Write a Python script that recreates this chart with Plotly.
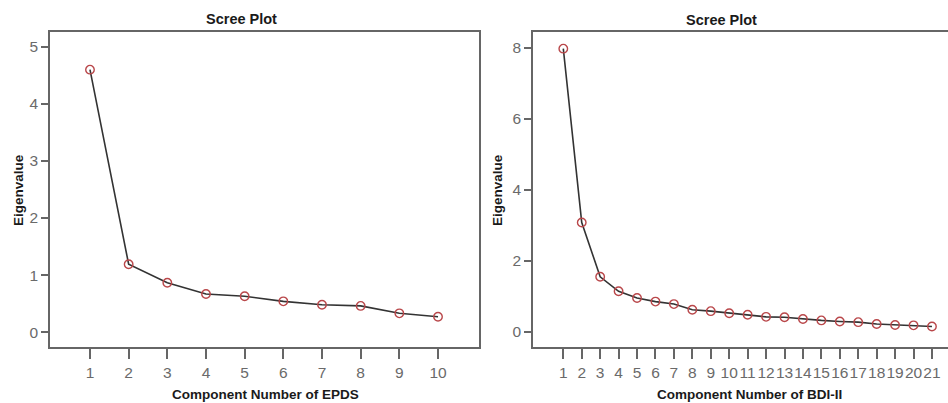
import plotly.graph_objects as go

# Data
epds_components = [1, 2, 3, 4, 5, 6, 7, 8, 9, 10]
epds_eigen = [4.60, 1.19, 0.865, 0.67, 0.63, 0.54, 0.48, 0.46, 0.33, 0.27]

bdi_components = list(range(1, 22))
bdi_eigen = [7.98, 3.08, 1.55, 1.14, 0.95, 0.85, 0.78, 0.62, 0.58, 0.52, 0.48,
             0.42, 0.41, 0.36, 0.32, 0.29, 0.27, 0.22, 0.19, 0.18, 0.15]

left_title = "Scree Plot"
right_title = "Scree Plot"
left_xlabel = "Component Number of EPDS"
right_xlabel = "Component Number of BDI-II"
ylabel = "Eigenvalue"

W, H = 948, 403
MT, MB = 32, 56
FONT = "Liberation Sans, Arial, sans-serif"
LINE_C = "#333333"
MARK_C = "#b9474a"
FRAME_C = "#666666"
TICK_C = "#6a6a6a"

fig = go.Figure()
fig.add_trace(go.Scatter(x=epds_components, y=epds_eigen, mode="lines+markers",
                         line=dict(color=LINE_C, width=1.6),
                         marker=dict(symbol="circle-open", size=8.5, color=MARK_C,
                                     line=dict(width=1.4, color=MARK_C)),
                         xaxis="x", yaxis="y", showlegend=False, cliponaxis=False))
fig.add_trace(go.Scatter(x=bdi_components, y=bdi_eigen, mode="lines+markers",
                         line=dict(color=LINE_C, width=1.6),
                         marker=dict(symbol="circle-open", size=8.5, color=MARK_C,
                                     line=dict(width=1.4, color=MARK_C)),
                         xaxis="x2", yaxis="y2", showlegend=False, cliponaxis=False))

tickfont = dict(family=FONT, size=15.5, color=TICK_C)
common_x = dict(showgrid=False, zeroline=False, showline=True, linecolor=FRAME_C,
                linewidth=1.8, ticks="outside", ticklen=10, tickwidth=1.5,
                tickcolor=FRAME_C, tickfont=tickfont, tickangle=0)
common_y = dict(showgrid=False, zeroline=False, showline=True, linecolor=FRAME_C,
                linewidth=1.8, ticks="outside", ticklen=7, tickwidth=1.5,
                tickcolor=FRAME_C, tickfont=tickfont, tickangle=0)

fig.update_layout(
    width=W, height=H,
    margin=dict(l=0, r=0, t=MT, b=MB, pad=0),
    paper_bgcolor="white", plot_bgcolor="white",
    xaxis=dict(domain=[50 / W, 479 / W], range=[-0.034, 11.06], mirror=True,
               anchor="y", tickvals=epds_components, **common_x),
    yaxis=dict(domain=[0, 1], range=[-0.26, 5.26], mirror=True, anchor="x",
               tickvals=[0, 1, 2, 3, 4, 5], **common_y),
    xaxis2=dict(domain=[533 / W, 1.0], range=[-0.644, 21.87], mirror=True,
                anchor="y2", tickvals=bdi_components, **common_x),
    yaxis2=dict(domain=[0, 1], range=[-0.43, 8.45], mirror=False, anchor="x2",
                tickvals=[0, 2, 4, 6, 8], **common_y),
)

title_font = dict(family=FONT, size=14.5, color="#1a1a1a")
label_font = dict(family=FONT, size=13.5, color="#1a1a1a")

def px_x(x):
    return x / W

def px_y(y):
    return (H - MB - y) / (H - MT - MB)

annots = [
    dict(text="<b>%s</b>" % left_title, x=px_x(241), y=px_y(19), font=title_font),
    dict(text="<b>%s</b>" % right_title, x=px_x(721), y=px_y(20), font=title_font),
    dict(text="<b>%s</b>" % left_xlabel, x=px_x(265), y=px_y(394), font=label_font),
    dict(text="<b>%s</b>" % right_xlabel, x=px_x(749), y=px_y(394), font=label_font),
    dict(text="<b>%s</b>" % ylabel, x=px_x(18), y=px_y(190), font=label_font, textangle=-90),
    dict(text="<b>%s</b>" % ylabel, x=px_x(497), y=px_y(190), font=label_font, textangle=-90),
]
for a in annots:
    a.update(xref="paper", yref="paper", showarrow=False, xanchor="center", yanchor="middle")
fig.update_layout(annotations=annots)

fig.write_html("out.html", config={"displayModeBar": False},
               post_script="document.body.style.margin='0';document.body.style.overflow='hidden';")
